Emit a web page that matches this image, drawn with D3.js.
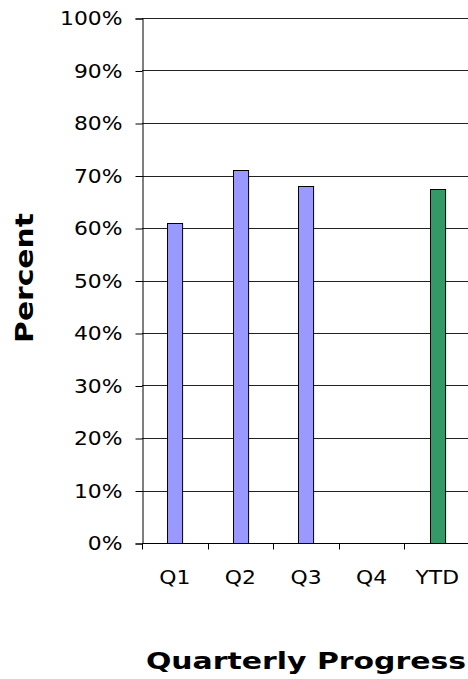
<!DOCTYPE html>
<html>
<head>
<meta charset="utf-8">
<script src="https://cdn.jsdelivr.net/npm/d3@7"></script>
<style>
  html, body { margin: 0; padding: 0; background: #fff; }
  svg { display: block; }
  text { font-family: "DejaVu Sans", Verdana, sans-serif; fill: #000; }
</style>
</head>
<body>
<svg id="chart" width="468" height="679"></svg>
<script>
// ---- data ----
const categories = ["Q1", "Q2", "Q3", "Q4", "YTD"];
const values = [0.61, 0.71, 0.68, null, 0.675];
const barColors = ["#9999FF", "#9999FF", "#9999FF", "#9999FF", "#339966"];
const yTicks = [0, 0.1, 0.2, 0.3, 0.4, 0.5, 0.6, 0.7, 0.8, 0.9, 1.0];
const yTitle = "Percent";
const xTitle = "Quarterly Progress";

// ---- layout ----
(function () {
const svg = d3.select("#chart");
const pL = 142, pR = 470, pT = 18, pB = 543;
const stretch = 1.15;

const y = d3.scaleLinear().domain([0, 1]).range([pB, pT]);
const x = d3.scaleBand().domain(categories).range([pL, pR])
  .paddingInner(0.77).paddingOuter(0.385);

// gridlines
svg.append("g").selectAll("line").data(yTicks.filter(d => d > 0)).join("line")
  .attr("x1", pL).attr("x2", 468)
  .attr("y1", d => Math.round(y(d)) + 0.5).attr("y2", d => Math.round(y(d)) + 0.5)
  .attr("stroke", "#222").attr("stroke-width", 1);

// bars
svg.append("g").selectAll("rect").data(categories.map((c, i) => ({c, v: values[i], col: barColors[i]})).filter(d => d.v != null))
  .join("rect")
  .attr("x", d => Math.round(x(d.c)) + 0.5)
  .attr("y", d => Math.round(y(d.v)) + 0.5)
  .attr("width", x.bandwidth())
  .attr("height", d => Math.round(y(0)) - Math.round(y(d.v)))
  .attr("fill", d => d.col)
  .attr("stroke", "#000").attr("stroke-width", 1);

// y axis
const yAxis = d3.axisLeft(y).tickValues(yTicks).tickFormat(d3.format(".0%"))
  .tickSize(7).tickPadding(13);
const gy = svg.append("g").attr("transform", `translate(${pL + 0.5},0.5)`).call(yAxis);
gy.attr("font-family", null).attr("font-size", null);
gy.select(".domain").attr("stroke", "#000");
gy.selectAll(".tick line").attr("stroke", "#000");
gy.selectAll(".tick text")
  .style("font-size", "19px")
  .attr("transform", function() {
    const xx = +d3.select(this).attr("x");
    return `translate(${xx},0) scale(${stretch},1)`;
  })
  .attr("x", 0);

// x axis (ticks at band boundaries)
const gx = svg.append("g").attr("transform", `translate(0,${pB + 0.5})`);
gx.append("line").attr("x1", pL).attr("x2", 468).attr("stroke", "#000");
gx.selectAll("line.t").data(categories).join("line").attr("class", "t")
  .attr("x1", d => Math.round(x(d) - x.step() * x.paddingOuter()) + 0.5)
  .attr("x2", d => Math.round(x(d) - x.step() * x.paddingOuter()) + 0.5)
  .attr("y1", 0).attr("y2", 6).attr("stroke", "#000");
gx.selectAll("text").data(categories).join("text")
  .attr("transform", d => `translate(${x(d) + x.bandwidth() / 2},40) scale(${stretch},1)`)
  .attr("text-anchor", "middle")
  .style("font-size", "19px")
  .text(d => d);

// titles
svg.append("text")
  .attr("transform", `translate(33,278) rotate(-90) scale(1.24,1)`)
  .attr("text-anchor", "middle")
  .style("font-size", "24px").style("font-weight", "bold")
  .text(yTitle);

svg.append("text")
  .attr("transform", `translate(306,669) scale(1.3,1)`)
  .attr("text-anchor", "middle")
  .style("font-size", "23px").style("font-weight", "bold")
  .text(xTitle);
})();
</script>
</body>
</html>
